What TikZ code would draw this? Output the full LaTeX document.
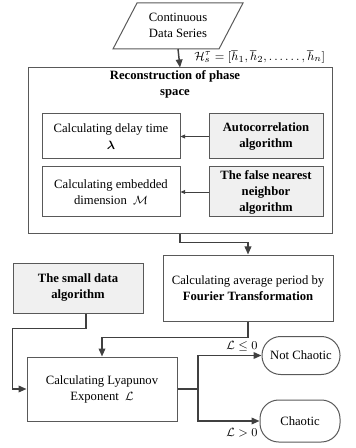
\documentclass[tikz,border=0pt]{standalone}
\usepackage{amsmath,amssymb}
\usepackage{fontspec}
\setmainfont{Liberation Serif}
\usetikzlibrary{arrows.meta,positioning}
\definecolor{linegray}{HTML}{404040}
\definecolor{boxgray}{HTML}{595959}
\definecolor{fillgray}{HTML}{F0F0F0}
\tikzset{
  box/.style={draw=boxgray, line width=0.75pt, align=center, inner sep=1pt,
    font=\fontsize{9.5}{12}\selectfont},
  algbox/.style={box, fill=fillgray, font=\fontsize{9.5}{12}\selectfont\bfseries},
  endbox/.style={box, rounded corners=14pt},
  flow/.style={draw=linegray, line width=1.1pt, -{Triangle[length=6pt,width=5pt]}},
  thinflow/.style={draw=linegray, line width=0.6pt, -{Triangle[length=3.5pt,width=3pt]}},
  lbl/.style={font=\fontsize{9.5}{12}\selectfont, inner sep=0pt}
}
\begin{document}
\begin{tikzpicture}[x=0.75pt,y=-0.75pt]
\useasboundingbox (0,0) rectangle (355,448);

% input data (parallelogram)
\draw[draw=boxgray, line width=0.75pt] (137,3) -- (243,3) -- (219,49) -- (113,49) -- cycle;
\node[lbl, align=center] (data) at (178,25) {Continuous\\Data Series};
\coordinate (datab) at (178,49);

% phase-space reconstruction block
\node[box, minimum width=228pt, minimum height=124.5pt] (recon) at (180,151) {};
\node[lbl, align=center, font=\fontsize{9.5}{12}\selectfont\bfseries] (rtitle) at (175,84) {Reconstruction of phase\\space};
\node[lbl, anchor=west] (hs) at (194,57) {$\mathcal{H}_s^{\tau}=[\hbar_1,\hbar_2,\ldots\ldots,\hbar_n]$};

\node[box, minimum width=103.5pt, minimum height=33.75pt] (delay) at (111,136.5) {Calculating delay time\\[1pt] $\boldsymbol{\lambda}$};
\node[algbox, minimum width=85.5pt, minimum height=33.75pt] (acorr) at (266,136.5) {Autocorrelation\\algorithm};
\node[box, minimum width=103.5pt, minimum height=37.5pt] (embed) at (111,192) {Calculating embedded\\dimension~ $\mathcal{M}$};
\node[algbox, minimum width=85.5pt, minimum height=37.5pt] (fnn) at (266,192) {The false nearest\\neighbor\\algorithm};

% lower part
\node[box, minimum width=127.5pt, minimum height=49.5pt] (fourier) at (248,288) {Calculating average period by\\\textbf{Fourier Transformation}};
\node[algbox, minimum width=97.5pt, minimum height=37.5pt] (small) at (78,288) {The small data\\algorithm};
\node[box, minimum width=112.5pt, minimum height=48pt] (lyap) at (102,389) {Calculating Lyapunov\\Exponent~ $\mathcal{L}$};
\node[endbox, minimum width=58.5pt, minimum height=28.5pt] (notch) at (301,355.5) {Not Chaotic};
\node[endbox, minimum width=60pt, minimum height=31.5pt] (chaotic) at (300,421) {Chaotic};

\coordinate (split) at (198,389);

% connectors
\draw[flow] (datab) -- (recon.north);
\draw[thinflow] (acorr) -- (delay);
\draw[thinflow] (fnn) -- (embed);
\draw[flow] (recon.south) -- ++(0,8) -| (fourier.north);
\draw[flow] ([xshift=6pt]small.south) -- ++(0,15) -| ([xshift=-10.5pt]lyap.west) -- (lyap.west);
\draw[flow] (fourier.south) -- ++(0,16) -| (lyap.north);
\draw[draw=linegray, line width=1.1pt] (lyap.east) -- (split);
\draw[flow] (split) |- (notch.west);
\draw[flow] (split) |- (chaotic.west);

\node[lbl] (le) at (242,346) {$\mathcal{L}\leq 0$};
\node[lbl] (gt) at (242,433) {$\mathcal{L}>0$};
\end{tikzpicture}
\end{document}
